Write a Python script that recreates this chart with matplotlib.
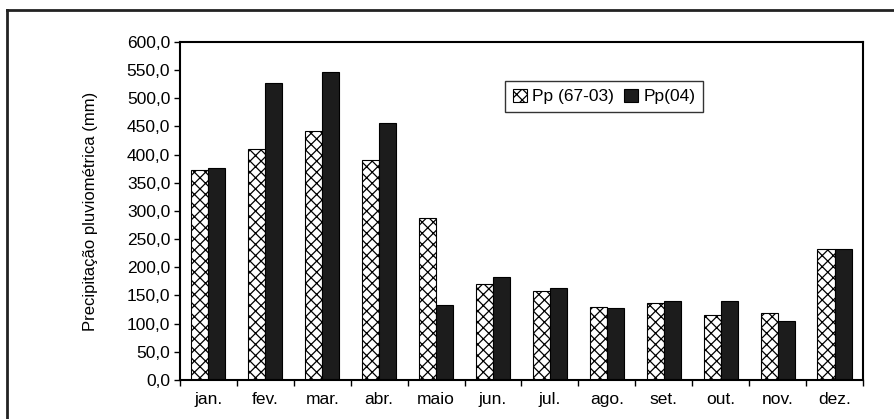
import matplotlib
matplotlib.use('Agg')
import matplotlib.pyplot as plt
import numpy as np
from matplotlib.ticker import FuncFormatter
from matplotlib.lines import Line2D

#monthly rainfall values
months = ['jan.', 'fev.', 'mar.', 'abr.', 'maio', 'jun.', 'jul.', 'ago.', 'set.', 'out.', 'nov.', 'dez.']
pp_67_03 = [372, 410, 442, 390, 287, 171, 158, 130, 136, 115, 119, 233]
pp_04 = [377, 527, 547, 456, 134, 182, 163, 127, 141, 141, 105, 232]

plt.rcParams['font.family'] = ['Liberation Sans', 'DejaVu Sans']
plt.rcParams['hatch.linewidth'] = 0.9

fig = plt.figure(figsize = (8.94, 4.19), dpi = 100)
ax = fig.add_axes([0.2013, 0.0931, 0.764, 0.8067])

x = np.arange(len(months))
w = 0.3
ax.bar(x - w/2, pp_67_03, w, color = 'white', edgecolor = 'black', hatch = 'xxx', linewidth = 0.8, label = 'Pp (67-03)')
ax.bar(x + w/2, pp_04, w, color = '#1c1c1c', edgecolor = 'black', linewidth = 0.8, label = 'Pp(04)')

ax.set_xlim(-0.5, 11.5)
ax.set_ylim(0, 600)
ax.set_yticks(np.arange(0, 601, 50))
ax.yaxis.set_major_formatter(FuncFormatter(lambda v, p: ('%.1f' % v).replace('.', ',')))
ax.tick_params(axis = 'y', labelsize = 12.5, length = 4, width = 1, direction = 'out', pad = 3)

#ticks at category borders, labels at centres
ax.set_xticks(np.arange(-0.5, 12, 1))
ax.set_xticklabels([])
ax.set_xticks(x, minor = True)
ax.set_xticklabels(months, minor = True, fontsize = 12.5)
ax.tick_params(axis = 'x', which = 'major', length = 4, width = 1, direction = 'out')
ax.tick_params(axis = 'x', which = 'minor', length = 0, pad = 9)

for s in ax.spines.values():
    s.set_linewidth(1.5)

ax.set_ylabel('Precipitação pluviométrica (mm)', fontsize = 12, labelpad = 21)

leg = ax.legend(ncol = 2, loc = 'upper left', bbox_to_anchor = (0.476, 0.885), frameon = True, fancybox = False,
                fontsize = 12.5, handlelength = 0.8, handleheight = 0.8, handletextpad = 0.3, columnspacing = 0.6,
                borderpad = 0.45, borderaxespad = 0)
leg.get_frame().set_edgecolor('black')
leg.get_frame().set_linewidth(1.0)

#outer frame of the scanned figure
fig.add_artist(Line2D([7/894, 7/894], [0, 1 - 10/419], color = '#222222', linewidth = 2, transform = fig.transFigure))
fig.add_artist(Line2D([7/894, 1], [1 - 10/419, 1 - 10/419], color = '#222222', linewidth = 2, transform = fig.transFigure))

fig.savefig('out.png', dpi = 100)
